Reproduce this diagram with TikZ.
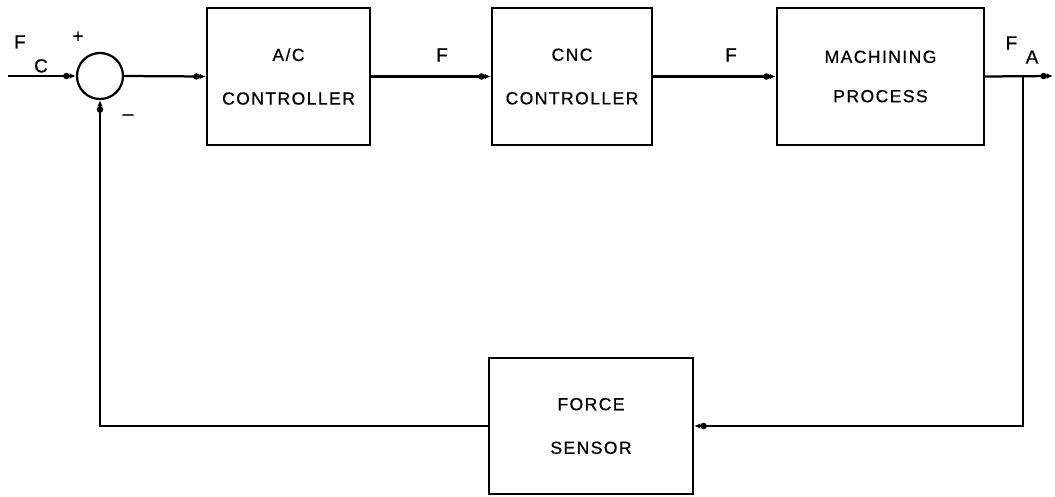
\documentclass[tikz,border=0pt]{standalone}
\usepackage{fontspec}
\setmainfont{Liberation Sans}[LetterSpace=8, FakeBold=0.6]
\usepackage{tikz}
\usetikzlibrary{arrows.meta, positioning, calc}

\begin{document}
\begin{tikzpicture}[
    x=0.025cm, y=-0.025cm,
    block/.style={rectangle, draw, line width=1.6pt, font=\fontsize{12.5}{14}\selectfont, align=center},
    junction/.style={circle, draw, line width=1.6pt, minimum size=1.15cm, inner sep=0pt},
    sig/.style={-{Circle[open,length=4.5pt,width=4.5pt]Latex[length=4.5pt,width=4pt]}, line width=1.6pt},
    lbl/.style={font=\fontsize{13.5}{15}\selectfont, inner sep=0pt}
]
\useasboundingbox (0,0) rectangle (1055,496);
\node[junction] (sum) at (100,76) {};
\node[block, minimum width=4.075cm, minimum height=3.425cm] (ac) at (288.5,76.5) {A/C\\[17pt]CONTROLLER};
\node[block, minimum width=4.0cm, minimum height=3.425cm] (cnc) at (572,76.5) {CNC\\[17pt]CONTROLLER};
\node[block, minimum width=5.175cm, minimum height=3.425cm] (mach) at (880.5,76.5) {MACHINING\\[14pt]PROCESS};
\node[block, minimum width=5.1cm, minimum height=3.4cm] (sensor) at (591,426) {FORCE\\[17pt]SENSOR};
\coordinate (in) at (8,76);
\coordinate (out) at (1053,76);
\coordinate (tap) at (1023,76);
\node[lbl] (fc) at (31,54) {F\hspace{6pt}\raisebox{-17pt}{C}};
\node[lbl] (plus) at (78,37) {+};
\node[lbl] (minus) at (128,117) {\textendash};
\node[lbl] (f1) at (442,55) {F};
\node[lbl] (f2) at (731,55) {F};
\node[lbl] (fa) at (1022,50) {F\hspace{6pt}\raisebox{-10pt}{A}};
\draw[sig] (in) -- (sum.west);
\draw[sig] (sum.east) -- (ac.west);
\draw[sig] (ac.east) -- (cnc.west);
\draw[sig] (cnc.east) -- (mach.west);
\draw[sig] (mach.east) -- (out);
\draw[sig] (tap) |- (sensor.east);
\draw[sig] (sensor.west) -| (sum.south);
\end{tikzpicture}
\end{document}
